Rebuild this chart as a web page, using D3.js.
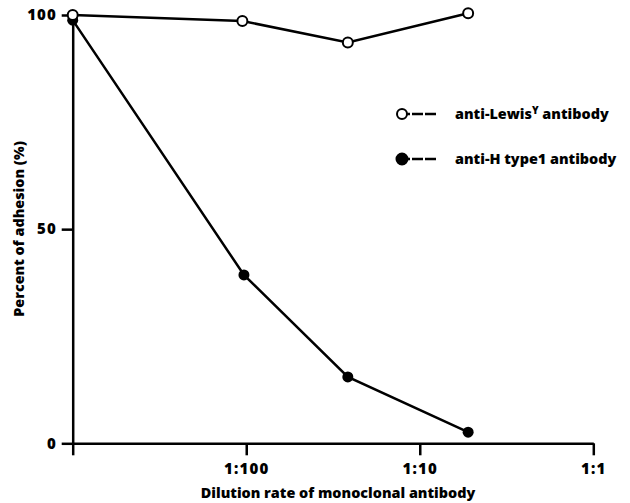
<!DOCTYPE html>
<html><head><meta charset="utf-8">
<script src="https://cdn.jsdelivr.net/npm/d3@7"></script>
<style>body{margin:0;background:#fff}text{font-family:"Open Sans",sans-serif;font-weight:800;fill:#000}</style>
</head><body><svg id="c" width="630" height="503"></svg>
<script>
// dilution (fraction of antibody) on a log axis
const lewisX = [0.001, 0.0095, 0.0385, 0.19];
const lewisY = [100, 98.6, 93.6, 100.4];
const htypeX = [0.001, 0.0097, 0.0385, 0.19];
const htypeY = [98.8, 39.3, 15.5, 2.6];
const xTicks = [0.001, 0.01, 0.1, 1];
const xTickLabels = ["", "1:100", "1:10", "1:1"];
const yTicks = [0, 50, 100];
const seriesNames = ["anti-Lewis", "anti-H type1 antibody"];

const svg = d3.select("#c");
const x = d3.scaleLog().domain([0.001, 1]).range([72.7, 593.3]);
const y = d3.scaleLinear().domain([0, 100]).range([443.3, 15]);

const fs = "14.4px";
// x axis
const xa = svg.append("g").attr("transform", `translate(0,${y(0)})`)
  .call(d3.axisBottom(x).tickValues(xTicks).tickFormat((d,i)=>xTickLabels[i]).tickSize(12).tickSizeOuter(0).tickPadding(8));
xa.select(".domain").attr("stroke-width", 2.5);
xa.selectAll(".tick line").attr("stroke-width", 2.5);
xa.selectAll("text").attr("font-size", "15px").attr("letter-spacing","1.2px").style("font-family","'Open Sans',sans-serif").style("font-weight","800");
// y axis
const ya = svg.append("g").attr("transform", `translate(${x(0.001)},0)`)
  .call(d3.axisLeft(y).tickValues(yTicks).tickSize(11).tickSizeOuter(0).tickPadding(5));
ya.select(".domain").attr("stroke-width", 2.5);
ya.selectAll(".tick line").attr("stroke-width", 2.5);
ya.selectAll("text").attr("font-size", "15px").attr("letter-spacing","1px").style("font-family","'Open Sans',sans-serif").style("font-weight","800");

// titles
svg.append("text").attr("x", 338).attr("y", 498).attr("text-anchor","middle").attr("font-size", fs)
  .text("Dilution rate of monoclonal antibody");
svg.append("text").attr("transform","translate(24,229) rotate(-90)").attr("text-anchor","middle").attr("font-size", fs)
  .text("Percent of adhesion (%)");

const line = d3.line().x(d=>x(d[0])).y(d=>y(d[1]));
const hData = htypeX.map((v,i)=>[v, htypeY[i]]);
const lData = lewisX.map((v,i)=>[v, lewisY[i]]);

svg.append("path").datum(hData).attr("d", line).attr("fill","none").attr("stroke","#000").attr("stroke-width",2.5);
svg.selectAll(".hp").data(hData).enter().append("circle").attr("cx",d=>x(d[0])).attr("cy",d=>y(d[1])).attr("r",5.5).attr("fill","#000");
svg.append("path").datum(lData).attr("d", line).attr("fill","none").attr("stroke","#000").attr("stroke-width",2.5);
svg.selectAll(".lp").data(lData).enter().append("circle").attr("cx",d=>x(d[0])).attr("cy",d=>y(d[1])).attr("r",5).attr("fill","#fff").attr("stroke","#000").attr("stroke-width",2);

// legend
const lg = [{y:114, fill:"#fff"},{y:159, fill:"#000"}];
lg.forEach((o,i)=>{
  svg.append("line").attr("x1",402).attr("x2",437).attr("y1",o.y).attr("y2",o.y)
    .attr("stroke","#000").attr("stroke-width",2.5).attr("stroke-dasharray","8,2,11,2,11");
  svg.append("circle").attr("cx",402).attr("cy",o.y).attr("r",i?5.5:5).attr("fill",o.fill).attr("stroke","#000").attr("stroke-width",2);
});
const t1 = svg.append("text").attr("x",455).attr("y",119).attr("font-size",fs);
t1.append("tspan").text(seriesNames[0]);
t1.append("tspan").attr("dy",-5).attr("font-size","10px").text("Y");
t1.append("tspan").attr("dy",5).text(" antibody");
svg.append("text").attr("x",455).attr("y",164).attr("font-size",fs).text(seriesNames[1]);
</script></body></html>
